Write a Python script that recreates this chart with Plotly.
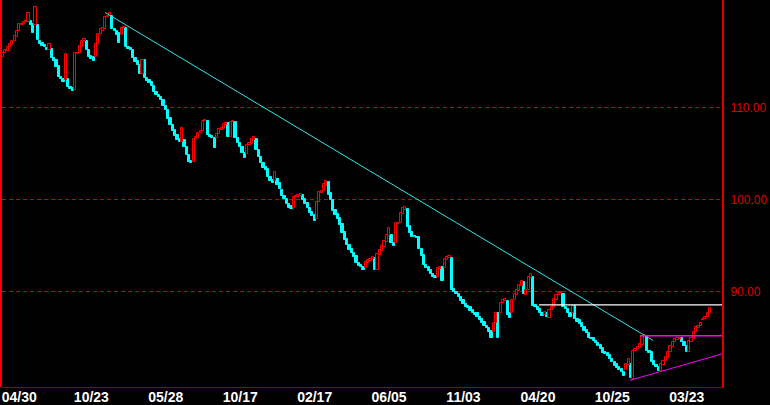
import plotly.graph_objects as go

# ---- data ----
opens = [
115.45,115.88,116.10,116.53,116.75,117.18,117.62,118.37,119.02,119.13,
119.24,119.24,119.35,119.13,119.02,119.02,117.18,116.97,116.75,116.43,
116.21,116.32,115.34,115.12,114.48,113.28,113.07,112.96,113.07,112.20,
112.09,111.87,115.77,115.88,116.53,117.18,117.18,116.21,115.56,115.45,
115.45,116.86,117.94,118.37,118.48,119.89,120.00,120.00,118.48,118.27,
118.05,117.83,118.59,118.59,116.53,116.43,116.21,115.34,115.02,114.58,
113.61,115.12,113.18,112.96,112.74,112.31,111.66,111.33,111.12,110.79,
110.14,109.71,108.84,108.08,107.54,107.00,106.57,106.24,106.46,105.70,
104.83,104.18,104.07,106.57,106.67,107.22,107.43,108.51,108.51,107.00,
106.89,106.67,106.67,107.11,107.54,107.65,108.08,108.30,106.78,108.41,
108.41,106.67,106.13,105.70,105.05,104.94,105.91,106.02,106.46,106.57,
105.37,104.62,103.96,103.53,103.31,102.45,102.12,102.02,102.23,101.80,
101.04,100.39,100.06,99.52,99.31,99.09,100.28,100.28,100.39,100.50,
100.06,99.63,99.09,98.66,98.33,97.90,99.74,100.72,100.93,101.47,
101.91,100.72,99.96,98.87,98.44,98.01,97.36,96.49,95.73,95.08,
94.65,94.21,93.89,93.13,92.91,92.70,92.59,93.13,93.35,93.56,
93.67,92.37,94.00,94.43,94.87,95.41,96.06,96.17,95.30,95.30,
97.36,97.46,98.44,98.87,98.98,97.14,96.49,96.06,95.95,95.95,
94.65,94.00,92.91,92.70,92.37,91.94,91.72,91.61,92.48,92.70,
92.59,93.46,93.67,93.67,90.31,89.99,89.77,89.45,89.12,88.69,
88.47,88.36,88.04,87.71,87.61,87.28,86.96,86.74,86.30,85.98,
85.66,85.55,86.63,87.71,87.61,88.80,89.01,89.01,87.61,87.71,
89.12,89.66,90.10,90.64,91.07,89.66,90.21,91.51,91.61,88.58,
88.36,88.15,87.71,87.50,87.71,87.17,88.04,88.36,89.12,89.66,
89.88,89.77,88.36,88.15,87.71,87.71,88.47,87.06,86.85,86.63,
86.09,85.87,85.44,85.00,84.90,84.57,84.36,84.14,83.81,83.38,
83.27,83.06,82.62,82.30,82.08,81.76,81.54,81.21,81.43,81.97,
82.08,80.45,83.49,83.71,83.81,84.14,85.11,85.11,83.49,83.38,
82.40,81.97,81.76,81.32,81.97,82.40,82.73,83.38,83.92,84.46,
84.68,84.79,84.90,84.46,84.03,83.38,84.46,84.79,85.55,85.98,
86.20,86.85,87.06,87.28,87.71,
]
closes = [
115.88,116.21,116.53,116.86,117.18,117.72,118.27,119.13,119.13,119.24,
119.35,120.22,119.02,118.05,120.97,117.29,116.86,116.64,116.53,116.21,
116.86,115.34,115.02,114.37,113.28,113.07,112.74,115.77,112.20,111.98,
111.77,115.88,115.88,116.64,117.18,117.40,116.21,115.45,115.23,115.02,
116.86,117.94,118.48,118.59,119.89,120.00,120.22,118.48,118.27,117.83,
116.97,118.59,118.70,116.53,116.32,116.21,115.34,114.91,114.58,113.61,
115.12,113.18,112.85,112.63,112.31,111.66,111.33,111.12,110.79,110.14,
109.71,108.73,108.08,107.43,106.89,106.46,106.24,107.76,105.70,104.83,
104.07,103.96,106.57,106.78,107.22,107.43,108.51,108.62,107.00,106.78,
106.67,105.59,107.11,107.65,107.76,108.19,108.30,106.78,108.41,108.51,
106.67,106.13,105.70,105.05,104.51,105.91,106.13,106.57,106.78,105.37,
104.62,103.96,103.42,103.21,102.45,102.02,101.80,102.99,101.58,101.15,
100.39,100.06,99.52,99.09,98.98,100.28,100.39,100.50,100.61,99.96,
99.52,99.09,98.55,98.22,97.68,99.74,100.82,100.93,101.69,102.02,
100.50,99.96,98.76,98.33,97.90,97.25,96.38,95.62,95.08,94.54,
94.21,93.78,93.13,92.81,92.70,92.37,93.24,93.46,93.56,93.78,
92.37,94.11,94.54,94.97,95.52,96.17,96.92,95.30,94.97,97.46,
97.46,98.55,99.09,99.20,97.03,96.38,95.95,95.95,95.84,94.65,
93.89,92.91,92.59,92.26,91.94,91.61,91.51,92.59,92.70,91.18,
93.56,93.78,93.89,90.21,89.99,89.77,89.45,89.01,88.69,88.36,
88.26,87.93,87.71,87.50,87.28,86.85,86.63,86.20,85.98,85.55,
85.00,86.63,87.71,85.00,88.80,89.12,89.23,87.50,87.17,89.12,
89.77,90.21,90.75,91.18,89.77,90.21,91.61,91.94,88.47,88.36,
88.04,87.61,87.39,87.82,87.28,88.04,88.36,89.23,89.66,89.88,
89.99,88.36,88.15,87.71,87.28,88.47,86.96,86.74,86.52,86.09,
85.76,85.44,85.00,84.79,84.57,84.36,84.03,83.71,83.27,83.16,
82.95,82.62,82.30,81.86,81.65,81.43,81.21,80.78,82.08,82.62,
80.56,83.49,83.71,83.92,84.25,85.11,85.22,83.49,83.27,82.30,
81.97,81.76,81.32,82.08,82.40,82.84,83.38,84.03,84.46,84.79,
84.90,85.00,84.46,84.03,83.38,84.57,84.90,85.55,86.09,86.30,
86.63,87.06,87.28,87.71,88.26,
]

tick_idx = [7, 38, 70, 102, 134, 166, 198, 230, 262, 294]
tick_text = ["04/30", "10/23", "05/28", "10/17", "02/17",
             "06/05", "11/03", "04/20", "10/25", "03/23"]
y_ticks = [90, 100, 110]

# trend lines (bar index, price)
down_trend_x = [43.9, 279.5]
down_trend_y = [120.33, 84.68]
resist_x = [230.5, 309.2]
resist_y = [88.55, 88.55]
neck_x = [273.9, 311.0]
neck_y = [85.19, 85.19]
support_x = [269.6, 311.0]
support_y = [80.35, 83.35]

# ---- figure ----
n = min(len(opens), len(closes))
up_x, up_base, up_h = [], [], []
dn_x, dn_base, dn_h = [], [], []
for i in range(n):
    o, c = opens[i], closes[i]
    if c >= o:
        up_x.append(i); up_base.append(o); up_h.append(max(c - o, 0.02))
    else:
        dn_x.append(i); dn_base.append(c); dn_h.append(o - c)

fig = go.Figure()
fig.add_trace(go.Bar(x=dn_x, y=dn_h, base=dn_base, width=0.95,
                     marker=dict(color="#00ffff", line=dict(color="#00ffff", width=1))))
fig.add_trace(go.Bar(x=up_x, y=up_h, base=up_base, width=0.95,
                     marker=dict(color="black", line=dict(color="#ff0000", width=1))))

fig.add_trace(go.Scatter(x=down_trend_x, y=down_trend_y, mode="lines",
                         line=dict(color="#33e6e6", width=1)))
fig.add_trace(go.Scatter(x=resist_x, y=resist_y, mode="lines",
                         line=dict(color="#ffffff", width=1.3)))
fig.add_trace(go.Scatter(x=neck_x, y=neck_y, mode="lines",
                         line=dict(color="#ff00ff", width=1.3)))
fig.add_trace(go.Scatter(x=support_x, y=support_y, mode="lines",
                         line=dict(color="#ff00ff", width=1)))

sans = "Liberation Sans, Arial, sans-serif"

fig.update_layout(
    width=770, height=405,
    margin=dict(l=2, r=48, t=0, b=18),
    paper_bgcolor="black", plot_bgcolor="black",
    barmode="overlay", bargap=0,
    showlegend=False,
    xaxis=dict(range=[-0.43, 309.15], tickmode="array",
               tickvals=tick_idx, ticktext=tick_text, automargin=False,
               showgrid=False, zeroline=False,
               showline=True, linecolor="#a00000", linewidth=1,
               ticks="", ticklabelstandoff=-3,
               tickfont=dict(family=sans, size=14, color="white", weight="bold")),
    yaxis=dict(range=[79.62, 121.685], side="right", automargin=False,
               tickmode="array", tickvals=y_ticks, tickformat=".2f",
               showgrid=True, gridcolor="#cc0000", gridwidth=1, griddash="4px,3px",
               zeroline=False, showline=True, linecolor="#e00000", linewidth=2,
               ticks="", ticklabelstandoff=4,
               tickfont=dict(family=sans, size=12, color="#dd0000")),
    shapes=[dict(type="line", xref="paper", yref="paper",
                 x0=-0.0014, x1=-0.0014, y0=0, y1=1,
                 line=dict(color="#ff0000", width=2))],
)

fig.write_html("out.html", config={"displayModeBar": False},
               post_script="document.body.style.margin='0';document.body.style.background='black';")
